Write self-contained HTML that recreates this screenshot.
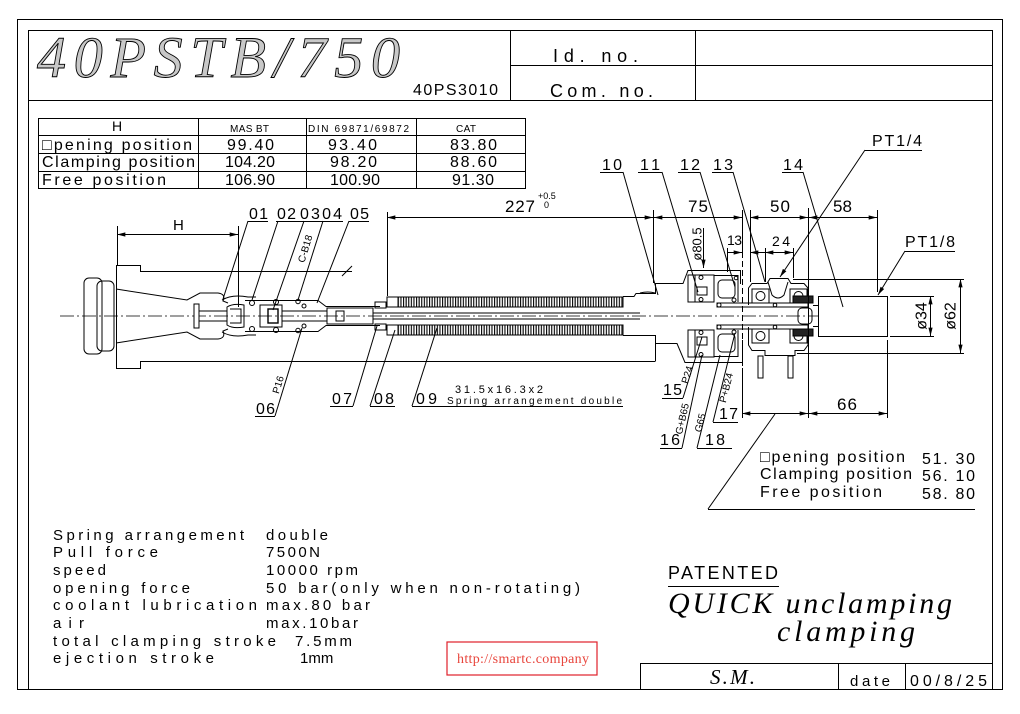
<!DOCTYPE html>
<html><head><meta charset="utf-8">
<style>
html,body{margin:0;padding:0;background:#fff;}
svg{display:block;}
text{font-family:"Liberation Sans",sans-serif;}
.sf{font-family:"Liberation Serif",serif;font-style:italic;}
</style></head><body>
<svg width="1020" height="714" viewBox="0 0 1020 714" xmlns="http://www.w3.org/2000/svg">
<defs>
<pattern id="sp" width="2.6" height="40" patternUnits="userSpaceOnUse"><rect x="0" y="0" width="1.1" height="40" fill="#000"/></pattern>
<marker id="ar" viewBox="0 -3 10 6" refX="10" refY="0" markerWidth="9" markerHeight="5" markerUnits="userSpaceOnUse" orient="auto-start-reverse"><path d="M0,-2.5 L10,0 L0,2.5 z" fill="#000"/></marker>
</defs>
<rect width="1020" height="714" fill="#fff"/>

<g fill="none" stroke="#000" stroke-width="1">
<rect x="17.5" y="19.5" width="985" height="670"/>
<rect x="28.5" y="30.5" width="964" height="659"/>
<line x1="28" y1="100.5" x2="993" y2="100.5"/>
<line x1="510.5" y1="30" x2="510.5" y2="100"/>
<line x1="695.5" y1="30" x2="695.5" y2="100"/>
<line x1="510" y1="65.5" x2="993" y2="65.5"/>
<line x1="640" y1="663.5" x2="993" y2="663.5"/>
<line x1="640.5" y1="663" x2="640.5" y2="689"/>
<line x1="838.5" y1="663" x2="838.5" y2="689"/>
<line x1="905.5" y1="663" x2="905.5" y2="689"/>
<rect x="38.5" y="118.5" width="487" height="70"/>
<line x1="38" y1="135.5" x2="525" y2="135.5"/>
<line x1="38" y1="153.5" x2="525" y2="153.5"/>
<line x1="38" y1="171.5" x2="525" y2="171.5"/>
<line x1="198.5" y1="118" x2="198.5" y2="188"/>
<line x1="306.5" y1="118" x2="306.5" y2="188"/>
<line x1="416.5" y1="118" x2="416.5" y2="188"/>
</g>

<text class="sf" x="37" y="77" font-size="58" textLength="363" lengthAdjust="spacing" style="fill:#c8c8c8;stroke:#000;stroke-width:0.9">40PSTB/750</text>

<g fill="#000">
<text x="413" y="95" font-size="16" textLength="85" lengthAdjust="spacing">40PS3010</text>
<text x="553" y="62" font-size="18" textLength="85" lengthAdjust="spacing">Id. no.</text>
<text x="550" y="97" font-size="18" textLength="103" lengthAdjust="spacing">Com. no.</text>

<text x="112" y="131" font-size="14">H</text>
<text x="230" y="132" font-size="10" textLength="39" lengthAdjust="spacing">MAS BT</text>
<text x="308" y="132" font-size="10" textLength="101" lengthAdjust="spacing">DIN 69871/69872</text>
<text x="456" y="132" font-size="10" textLength="20" lengthAdjust="spacing">CAT</text>
<g font-size="16">
<text x="42" y="150" textLength="150" lengthAdjust="spacing">□pening position</text>
<text x="42" y="167" textLength="153" lengthAdjust="spacing">Clamping position</text>
<text x="42" y="185" textLength="124" lengthAdjust="spacing">Free position</text>
<text x="227" y="150" textLength="47" lengthAdjust="spacing">99.40</text>
<text x="328" y="150" textLength="49" lengthAdjust="spacing">93.40</text>
<text x="450" y="150" textLength="47" lengthAdjust="spacing">83.80</text>
<text x="225" y="167" textLength="50" lengthAdjust="spacing">104.20</text>
<text x="330" y="167" textLength="47" lengthAdjust="spacing">98.20</text>
<text x="450" y="167" textLength="47" lengthAdjust="spacing">88.60</text>
<text x="225" y="185" textLength="50" lengthAdjust="spacing">106.90</text>
<text x="330" y="185" textLength="50" lengthAdjust="spacing">100.90</text>
<text x="452" y="185" textLength="42" lengthAdjust="spacing">91.30</text>
</g>
</g>

<g fill="none" stroke="#000" stroke-width="1">
<line x1="60" y1="316" x2="818" y2="316" stroke-dasharray="14 3 2 3" stroke-width="0.8"/>

<rect x="84" y="278" width="18" height="76" rx="5"/>
<rect x="97" y="281" width="17" height="70" rx="5"/>
<line x1="102" y1="285" x2="102" y2="347"/>
<path d="M116.5,265.5 H140.5 V271.5 H352"/>
<path d="M116.5,265 V368.5 H140.5 V361.5 H655.5"/>
<line x1="342" y1="276" x2="352" y2="266"/>
<path d="M116,289 L187,300 L200,293 H218 Q226,294 223,301 L228,303"/>
<path d="M116,343 L187,332 L200,339 H218 Q226,338 223,331 L228,329"/>
<rect x="194" y="304" width="5" height="24" fill="#fff"/>
<line x1="199" y1="311" x2="227" y2="311"/>
<line x1="199" y1="321" x2="227" y2="321"/>
<path d="M227,307 Q233,303 244,305 V327 Q233,329 227,325 Z"/>
<path d="M230,309 H241 V323 H230"/>
<path d="M222,300 Q232,294 248,297 H256"/>
<path d="M222,332 Q232,338 248,335 H256"/>
<path d="M245,300.5 H318 L326,306.5 H380"/>
<path d="M245,331.5 H318 L326,325.5 H380"/>
<rect x="260" y="305" width="22" height="22"/>
<rect x="268" y="309" width="10" height="14" stroke-width="1.4"/>
<line x1="282" y1="311" x2="327" y2="311"/>
<line x1="282" y1="321" x2="327" y2="321"/>
<rect x="327" y="308" width="46" height="16"/>
<rect x="336" y="311" width="8" height="10"/>
<circle cx="252" cy="303" r="2.5"/><circle cx="252" cy="329" r="2.5"/>
<circle cx="276" cy="302" r="2.5"/><circle cx="276" cy="330" r="2.5"/>
<circle cx="298" cy="301.5" r="2.2"/><circle cx="298" cy="330.5" r="2.2"/>
<circle cx="304" cy="306" r="2"/><circle cx="304" cy="326" r="2"/>
<rect x="375" y="302" width="11" height="6"/>
<rect x="375" y="324" width="11" height="6"/>
<rect x="387" y="297" width="11" height="10"/>
<rect x="387" y="325" width="11" height="10"/>
<line x1="373" y1="313" x2="640" y2="313"/>
<line x1="373" y1="319" x2="640" y2="319"/>
<rect x="398" y="297" width="225" height="10" fill="url(#sp)"/>
<rect x="398" y="325" width="225" height="10" fill="url(#sp)"/>

<path d="M623,296.5 H634 L636,293.5 H655.5 V283.5 H683 L688,270.5 H740.5 V284"/>
<path d="M623,335.5 H655.5 V361"/>
<path d="M655,343.5 H677 L685,362.5 H742.5 V340"/>
<path d="M640,293 Q648,291 655,293"/>
<rect x="688" y="275" width="26" height="27"/>
<line x1="695" y1="275" x2="695" y2="302"/>
<rect x="697" y="287" width="10" height="8"/>
<circle cx="701" cy="277.5" r="2"/><circle cx="701" cy="299.5" r="2"/>
<rect x="688" y="330" width="26" height="27"/>
<line x1="695" y1="330" x2="695" y2="357"/>
<rect x="697" y="337" width="10" height="8"/>
<circle cx="701" cy="332.5" r="2"/><circle cx="701" cy="354.5" r="2"/>
<path d="M714,275.5 H738 V302"/>
<rect x="718" y="280" width="17" height="18" rx="4"/>
<path d="M714,356.5 H738 V330"/>
<rect x="718" y="334" width="17" height="18" rx="4"/>
<circle cx="734" cy="300" r="2"/><circle cx="734" cy="332" r="2"/>
<circle cx="736" cy="278" r="1.8"/>
<rect x="717" y="303" width="91" height="4"/>
<rect x="717" y="325" width="91" height="4"/>
<circle cx="719" cy="305" r="2"/><circle cx="719" cy="327" r="2"/>
<circle cx="775" cy="305" r="1.8"/><circle cx="775" cy="327" r="1.8"/>
<path d="M748.5,305 V288 L752,283.5 H767 L770,278.5 H788 L791,283.5 H804 L808,288 V305"/>
<rect x="752" y="289" width="17" height="14"/>
<circle cx="760.5" cy="296" r="4.5"/>
<rect x="790" y="289" width="17" height="14"/>
<circle cx="798.5" cy="296" r="4.5"/>
<path d="M768,282 L772,295 Q778,301 784,295 L788,282"/>
<path d="M748.5,327 V345 L752,350.5 H765 V355.5 H795 V350.5 H804 L808,345 V327"/>
<rect x="752" y="329" width="17" height="14"/>
<circle cx="760.5" cy="336" r="4.5"/>
<rect x="790" y="329" width="17" height="14"/>
<circle cx="798.5" cy="336" r="4.5"/>
<rect x="758" y="356" width="5" height="22"/>
<rect x="788" y="356" width="5" height="22"/>
<rect x="793" y="296" width="20" height="7" fill="#222"/>
<rect x="793" y="329" width="20" height="7" fill="#222"/>
<rect x="798" y="308" width="14" height="16" rx="4"/>
<line x1="813" y1="305.5" x2="818" y2="305.5"/>
<line x1="813" y1="326.5" x2="818" y2="326.5"/>
<rect x="818.5" y="296.5" width="69" height="40"/>
<line x1="742.5" y1="252" x2="742.5" y2="368" stroke-dasharray="6 3"/>

<line x1="117.5" y1="226" x2="117.5" y2="265"/>
<line x1="238.5" y1="226" x2="238.5" y2="307"/>
<line x1="387.5" y1="212" x2="387.5" y2="296"/>
<line x1="653.5" y1="210" x2="653.5" y2="283"/>
<line x1="742.5" y1="210" x2="742.5" y2="252"/>
<line x1="750.5" y1="210" x2="750.5" y2="282"/>
<line x1="808.5" y1="208" x2="808.5" y2="418"/>
<line x1="877.5" y1="210" x2="877.5" y2="292"/>
<line x1="765.5" y1="248" x2="765.5" y2="282"/>
<line x1="793.5" y1="248" x2="793.5" y2="278"/>
<line x1="727.5" y1="248" x2="727.5" y2="272"/>
<line x1="793" y1="279.5" x2="964" y2="279.5"/>
<line x1="797" y1="353.5" x2="964" y2="353.5"/>
<line x1="890" y1="296.5" x2="934" y2="296.5"/>
<line x1="890" y1="336.5" x2="934" y2="336.5"/>
<line x1="742.5" y1="368" x2="742.5" y2="418"/>
<line x1="887.5" y1="340" x2="887.5" y2="418"/>

<line x1="117" y1="234.5" x2="238" y2="234.5" marker-start="url(#ar)" marker-end="url(#ar)"/>
<line x1="387" y1="217.5" x2="653" y2="217.5" marker-start="url(#ar)" marker-end="url(#ar)"/>
<line x1="654" y1="217.5" x2="742" y2="217.5" marker-start="url(#ar)" marker-end="url(#ar)"/>
<line x1="750" y1="217.5" x2="808" y2="217.5" marker-start="url(#ar)" marker-end="url(#ar)"/>
<line x1="809" y1="217.5" x2="877" y2="217.5" marker-start="url(#ar)" marker-end="url(#ar)"/>
<line x1="727" y1="252.5" x2="742" y2="252.5" marker-end="url(#ar)"/>
<line x1="765" y1="252.5" x2="750" y2="252.5" marker-end="url(#ar)"/>
<line x1="765" y1="252.5" x2="793" y2="252.5" marker-start="url(#ar)" marker-end="url(#ar)"/>
<line x1="703.5" y1="228" x2="703.5" y2="268" marker-end="url(#ar)"/>
<line x1="930.5" y1="296" x2="930.5" y2="336" marker-start="url(#ar)" marker-end="url(#ar)"/>
<line x1="960.5" y1="279" x2="960.5" y2="353" marker-start="url(#ar)" marker-end="url(#ar)"/>
<line x1="742" y1="413.5" x2="808" y2="413.5" marker-start="url(#ar)" marker-end="url(#ar)"/>
<line x1="809" y1="413.5" x2="887" y2="413.5" marker-start="url(#ar)" marker-end="url(#ar)"/>

<line x1="248" y1="221.5" x2="268" y2="221.5"/>
<line x1="248" y1="221" x2="223" y2="299"/>
<line x1="276" y1="221.5" x2="343" y2="221.5"/>
<line x1="278" y1="221" x2="252" y2="300"/>
<line x1="304" y1="221" x2="273" y2="310"/>
<line x1="323" y1="221" x2="298" y2="300"/>
<line x1="349" y1="221.5" x2="369" y2="221.5"/>
<line x1="349" y1="221" x2="317" y2="303"/>
<line x1="255" y1="416.5" x2="275" y2="416.5"/>
<line x1="275" y1="416" x2="302" y2="328"/>
<line x1="330" y1="406.5" x2="353" y2="406.5"/>
<line x1="353" y1="406" x2="377" y2="326"/>
<line x1="370" y1="406.5" x2="395" y2="406.5"/>
<line x1="370" y1="406" x2="395" y2="330"/>
<line x1="412" y1="406.5" x2="623" y2="406.5"/>
<line x1="412" y1="406" x2="437" y2="328"/>
<line x1="600" y1="172.5" x2="623" y2="172.5"/>
<line x1="623" y1="172" x2="658" y2="295"/>
<line x1="638" y1="172.5" x2="662" y2="172.5"/>
<line x1="662" y1="172" x2="698" y2="292"/>
<line x1="678" y1="172.5" x2="700" y2="172.5"/>
<line x1="700" y1="172" x2="735" y2="287"/>
<line x1="712" y1="172.5" x2="733" y2="172.5"/>
<line x1="733" y1="172" x2="765" y2="282"/>
<line x1="782" y1="172.5" x2="803" y2="172.5"/>
<line x1="803" y1="172" x2="843" y2="307"/>
<line x1="865" y1="150.5" x2="922" y2="150.5"/>
<line x1="865" y1="150" x2="780" y2="277" marker-end="url(#ar)"/>
<line x1="905" y1="251.5" x2="955" y2="251.5"/>
<line x1="905" y1="251" x2="878" y2="295" marker-end="url(#ar)"/>
<line x1="662" y1="398.5" x2="683" y2="398.5"/>
<line x1="683" y1="398" x2="702" y2="337"/>
<line x1="660" y1="448.5" x2="682" y2="448.5"/>
<line x1="682" y1="448" x2="702" y2="355"/>
<line x1="697" y1="448.5" x2="732" y2="448.5"/>
<line x1="697" y1="448" x2="720" y2="355"/>
<line x1="713" y1="422.5" x2="738" y2="422.5"/>
<line x1="713" y1="422" x2="735" y2="333"/>
<line x1="708" y1="509.5" x2="975" y2="509.5"/>
<line x1="708" y1="509" x2="775" y2="414"/>
<line x1="668" y1="586.5" x2="779" y2="586.5"/>
</g>

<g fill="#000">
<text x="173" y="230" font-size="15">H</text>
<text x="505" y="212" font-size="17" textLength="30" lengthAdjust="spacing">227</text>
<text x="538" y="199" font-size="9">+0.5</text>
<text x="544" y="208" font-size="9">0</text>
<text x="688" y="212" font-size="17" textLength="20" lengthAdjust="spacing">75</text>
<text x="770" y="212" font-size="17" textLength="20" lengthAdjust="spacing">50</text>
<text x="833" y="212" font-size="17" textLength="19" lengthAdjust="spacing">58</text>
<text x="727" y="245" font-size="14" textLength="15" lengthAdjust="spacing">13</text>
<text x="772" y="246" font-size="14" textLength="18" lengthAdjust="spacing">24</text>
<text x="837" y="410" font-size="17" textLength="20" lengthAdjust="spacing">66</text>
<text transform="translate(697,244) rotate(-90)" text-anchor="middle" dominant-baseline="central" font-size="13">ø80.5</text>
<text transform="translate(922,316) rotate(-90)" text-anchor="middle" dominant-baseline="central" font-size="16">ø34</text>
<text transform="translate(951,316) rotate(-90)" text-anchor="middle" dominant-baseline="central" font-size="16">ø62</text>

<g font-size="16">
<text x="249" y="219" textLength="19" lengthAdjust="spacing">01</text>
<text x="277" y="219" textLength="19" lengthAdjust="spacing">02</text>
<text x="300" y="219" textLength="42" lengthAdjust="spacing">0304</text>
<text x="350" y="219" textLength="19" lengthAdjust="spacing">05</text>
<text x="256" y="414" textLength="19" lengthAdjust="spacing">06</text>
<text x="332" y="404" textLength="20" lengthAdjust="spacing">07</text>
<text x="374" y="404" textLength="20" lengthAdjust="spacing">08</text>
<text x="416" y="404" textLength="21" lengthAdjust="spacing">09</text>
<text x="602" y="170" textLength="20" lengthAdjust="spacing">10</text>
<text x="640" y="170" textLength="20" lengthAdjust="spacing">11</text>
<text x="680" y="170" textLength="20" lengthAdjust="spacing">12</text>
<text x="713" y="170" textLength="20" lengthAdjust="spacing">13</text>
<text x="783" y="170" textLength="20" lengthAdjust="spacing">14</text>
<text x="872" y="146" textLength="50" lengthAdjust="spacing">PT1/4</text>
<text x="905" y="247" textLength="50" lengthAdjust="spacing">PT1/8</text>
<text x="663" y="395" textLength="19" lengthAdjust="spacing">15</text>
<text x="660" y="445" textLength="20" lengthAdjust="spacing">16</text>
<text x="705" y="445" textLength="20" lengthAdjust="spacing">18</text>
<text x="719" y="419" textLength="19" lengthAdjust="spacing">17</text>
</g>
<text x="455" y="393" font-size="11" textLength="88" lengthAdjust="spacing">31.5x16.3x2</text>
<text x="447" y="404" font-size="10" textLength="175" lengthAdjust="spacing">Spring arrangement double</text>
<g font-size="10">
<text transform="translate(306,249) rotate(-73)" text-anchor="middle" dominant-baseline="central">C-B18</text>
<text transform="translate(279,385) rotate(-73)" text-anchor="middle" dominant-baseline="central">P16</text>
<text transform="translate(688,375) rotate(-72)" text-anchor="middle" dominant-baseline="central">P24</text>
<text transform="translate(683,419) rotate(-77)" text-anchor="middle" dominant-baseline="central">G+B65</text>
<text transform="translate(701,423) rotate(-76)" text-anchor="middle" dominant-baseline="central">G65</text>
<text transform="translate(727,388) rotate(-76)" text-anchor="middle" dominant-baseline="central">P+B24</text>
</g>

<g font-size="16">
<text x="760" y="462" textLength="145" lengthAdjust="spacing">□pening position</text>
<text x="760" y="479" textLength="152" lengthAdjust="spacing">Clamping position</text>
<text x="760" y="497" textLength="122" lengthAdjust="spacing">Free position</text>
<text x="922" y="464" textLength="53" lengthAdjust="spacing">51. 30</text>
<text x="922" y="481" textLength="53" lengthAdjust="spacing">56. 10</text>
<text x="922" y="499" textLength="53" lengthAdjust="spacing">58. 80</text>
</g>

<g font-size="15">
<text x="53" y="540" textLength="191" lengthAdjust="spacing">Spring arrangement</text>
<text x="266" y="540" textLength="62" lengthAdjust="spacing">double</text>
<text x="53" y="557" textLength="105" lengthAdjust="spacing">Pull force</text>
<text x="266" y="557" textLength="54" lengthAdjust="spacing">7500N</text>
<text x="53" y="575" textLength="53" lengthAdjust="spacing">speed</text>
<text x="266" y="575" textLength="92" lengthAdjust="spacing">10000 rpm</text>
<text x="53" y="593" textLength="137" lengthAdjust="spacing">opening force</text>
<text x="266" y="593" textLength="314" lengthAdjust="spacing">50 bar(only when non-rotating)</text>
<text x="53" y="610" textLength="204" lengthAdjust="spacing">coolant lubrication</text>
<text x="266" y="610" textLength="104" lengthAdjust="spacing">max.80 bar</text>
<text x="53" y="628" textLength="31" lengthAdjust="spacing">air</text>
<text x="266" y="628" textLength="92" lengthAdjust="spacing">max.10bar</text>
<text x="53" y="646" textLength="223" lengthAdjust="spacing">total clamping stroke</text>
<text x="295" y="646" textLength="57" lengthAdjust="spacing">7.5mm</text>
<text x="53" y="663" textLength="161" lengthAdjust="spacing">ejection stroke</text>
<text x="300" y="663">1mm</text>
</g>

<text x="668" y="579" font-size="18" textLength="110" lengthAdjust="spacing">PATENTED</text>
<text class="sf" x="668" y="613" font-size="30" textLength="284" lengthAdjust="spacing">QUICK  unclamping</text>
<text class="sf" x="777" y="641" font-size="30" textLength="138" lengthAdjust="spacing">clamping</text>
<text class="sf" x="710" y="684" font-size="21" textLength="45" lengthAdjust="spacing">S.M.</text>
<text x="850" y="686" font-size="15" textLength="40" lengthAdjust="spacing">date</text>
<text x="910" y="686" font-size="16" textLength="77" lengthAdjust="spacing">00/8/25</text>
</g>

<rect x="447" y="642" width="150" height="33" fill="none" stroke="#e0202a" stroke-width="1.2"/>
<text x="457" y="663" font-size="14" textLength="132" lengthAdjust="spacing" style="font-family:'Liberation Serif',serif;fill:#e8453c">http://smartc.company</text>
</svg>
</body></html>
